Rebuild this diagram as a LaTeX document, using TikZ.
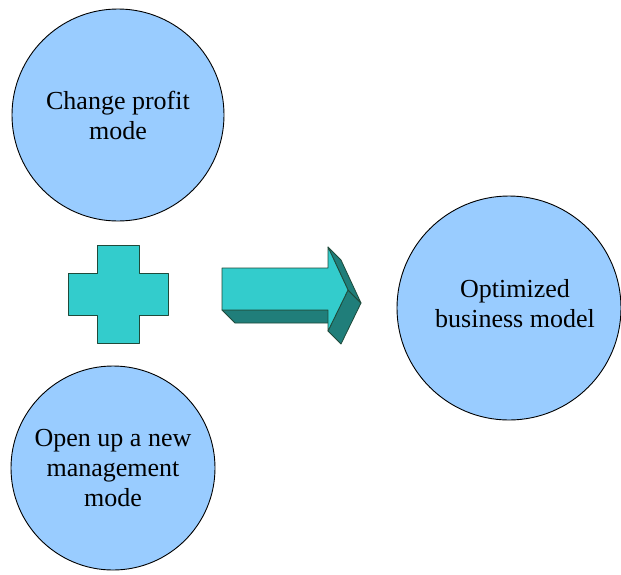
\documentclass[tikz,border=0pt]{standalone}
\usepackage{fontspec}
\setmainfont{Liberation Serif}
\definecolor{bubble}{HTML}{99CCFF}
\definecolor{teal1}{HTML}{33CCCC}
\definecolor{teal2}{HTML}{207E7A}
\definecolor{edge}{HTML}{1F4A3A}
\begin{document}
\begin{tikzpicture}[x=1pt,y=-1pt,
  bubblestyle/.style={circle,draw=black,line width=0.9pt,fill=bubble,inner sep=0pt,align=center,
    font=\fontsize{26}{30}\selectfont},
  face/.style={fill=teal1,draw=edge,line width=0.8pt,line join=round},
  side/.style={fill=teal2,draw=edge,line width=0.8pt,line join=round}]
\useasboundingbox (0,0) rectangle (621,574);
\node[bubblestyle,minimum size=212pt] (a) at (118,115) {Change profit\\mode};
\node[bubblestyle,minimum size=204pt] (b) at (113,468) {Open up a new\\management\\mode};
\node[bubblestyle,minimum size=224pt] (c) at (509,308) {};
\node[align=center,inner sep=0pt,font=\fontsize{26}{30}\selectfont] (ct) at (515,304) {Optimized\\business model};
% plus
\draw[face] (97,245) -- (139,245) -- (139,273) -- (168,273) -- (168,315) -- (139,315) -- (139,343)
  -- (97,343) -- (97,315) -- (68,315) -- (68,273) -- (97,273) -- cycle;
% arrow sides
\draw[side] (222,310) -- (328,310) -- (341,323) -- (235,323) -- cycle;
\draw[side] (348,290) -- (328,331) -- (341,344) -- (361,303) -- cycle;
\draw[side] (328,247) -- (348,290) -- (361,303) -- (341,260) -- cycle;
% arrow front
\draw[face] (222,268) -- (328,268) -- (328,247) -- (348,290) -- (328,331) -- (328,310) -- (222,310) -- cycle;
\end{tikzpicture}
\end{document}
